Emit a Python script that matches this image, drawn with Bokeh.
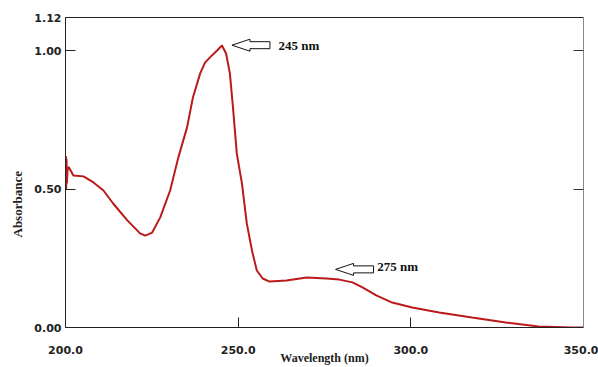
from bokeh.plotting import figure
from bokeh.models import Range1d, LinearAxis, FixedTicker, PrintfTickFormatter, Label, Title
from bokeh.embed import file_html
from bokeh.resources import INLINE

# ---- data ----
wavelength = [200.0, 200.1, 200.2, 200.3, 200.4, 200.6, 200.9, 202.3, 205.2, 208.1, 211.0,
              213.8, 217.9, 221.6, 223.1, 225.1, 227.4, 230.3, 232.6, 235.2, 236.9,
              239.0, 240.4, 242.4, 243.9, 245.3, 246.5, 247.6, 248.5, 249.6, 251.1,
              252.5, 254.0, 255.4, 257.1, 259.1, 264.0, 269.8, 275.6, 279.3, 283.1,
              286.0, 290.0, 294.6, 300.4, 308.2, 317.7, 327.5, 337.0, 346.6, 350.0]
absorbance = [0.50, 0.62, 0.50, 0.61, 0.52, 0.57, 0.58, 0.549, 0.546, 0.524, 0.495,
              0.448, 0.387, 0.340, 0.332, 0.343, 0.397, 0.495, 0.611, 0.723, 0.831,
              0.918, 0.957, 0.983, 1.001, 1.019, 0.990, 0.918, 0.795, 0.629, 0.520,
              0.376, 0.278, 0.206, 0.177, 0.166, 0.170, 0.181, 0.177, 0.173, 0.163,
              0.145, 0.116, 0.090, 0.072, 0.054, 0.036, 0.018, 0.004, 0.000, 0.000]

x_ticks = [200, 250, 300, 350]
y_ticks = [0.0, 0.5, 1.0, 1.12]
right_ticks = [0.5, 1.0]

peak_labels = ["245 nm", "275 nm"]
arrow_tip_x = [248.2, 278.2]
arrow_tip_y = [1.02, 0.21]
peak_text_x = [261.7, 290.3]
peak_text_y = [1.019, 0.220]

# ---- figure ----
p = figure(width=598, height=367, x_range=Range1d(200, 350), y_range=Range1d(0, 1.12),
           output_backend="svg", toolbar_location=None,
           min_border_left=65, min_border_right=15, min_border_top=17, min_border_bottom=40,
           background_fill_color="white", border_fill_color="white")
p.outline_line_color = None
p.grid.visible = False

tick_font = "DejaVu Sans"

xa = p.xaxis[0]
xa.ticker = FixedTicker(ticks=x_ticks)
xa.formatter = PrintfTickFormatter(format="%.1f")
xa.major_tick_in = 10
xa.major_tick_out = 0
xa.minor_tick_in = 0
xa.minor_tick_out = 0
xa.major_label_standoff = 18
xa.major_label_text_font = tick_font
xa.major_label_text_font_style = "bold"
xa.major_label_text_font_size = "11px"
xa.major_label_text_color = "#222222"
xa.axis_line_color = "#222222"
xa.major_tick_line_color = "#222222"
xa.axis_label = "Wavelength (nm)"
xa.axis_label_text_font = "Liberation Serif"
xa.axis_label_text_font_style = "bold"
xa.axis_label_text_font_size = "12px"
xa.axis_label_text_color = "#222222"
xa.axis_label_standoff = -6

ya = p.yaxis[0]
ya.ticker = FixedTicker(ticks=y_ticks)
ya.formatter = PrintfTickFormatter(format="%.2f")
ya.major_tick_in = 10
ya.major_tick_out = 0
ya.minor_tick_in = 0
ya.minor_tick_out = 0
ya.major_label_standoff = 4
ya.major_label_text_font = tick_font
ya.major_label_text_font_style = "bold"
ya.major_label_text_font_size = "11px"
ya.major_label_text_color = "#222222"
ya.axis_line_color = "#222222"
ya.major_tick_line_color = "#222222"

ra = LinearAxis(ticker=FixedTicker(ticks=right_ticks), major_tick_in=10, major_tick_out=0,
                minor_tick_in=0, minor_tick_out=0, major_label_text_alpha=0,
                major_label_text_font_size="1px", major_label_standoff=0,
                axis_line_color="#8a8a8a", major_tick_line_color="#333333")
p.add_layout(ra, "right")

ta = LinearAxis(ticker=FixedTicker(ticks=[]), major_tick_in=0, major_tick_out=0,
                minor_tick_in=0, minor_tick_out=0, major_label_standoff=0,
                axis_line_color="#222222")
p.add_layout(ta, "above")

p.add_layout(Title(text="Absorbance", align="left", offset=90, standoff=13,
                   text_font="Liberation Serif", text_font_style="bold",
                   text_font_size="13px", text_color="#222222"), "left")

# ---- spectrum ----
p.line(wavelength, absorbance, line_color="#bb1a1a", line_width=2)

# ---- hollow arrows (built from tip positions, sizes in pixels) ----
px_x = 150.0 / 518.0   # nm per pixel
px_y = 1.12 / 310.0    # absorbance per pixel
shape = [(0, 0), (18, 6), (18, 3.5), (38, 3.5), (38, -3.5), (18, -3.5), (18, -6)]
xs, ys = [], []
for tx, ty in zip(arrow_tip_x, arrow_tip_y):
    xs.append([tx + dx * px_x for dx, dy in shape])
    ys.append([ty + dy * px_y for dx, dy in shape])
p.patches(xs, ys, fill_color="white", line_color="#111111", line_width=1)

for t, tx, ty in zip(peak_labels, peak_text_x, peak_text_y):
    p.add_layout(Label(x=tx, y=ty, text=t, text_font="Liberation Serif", text_font_style="bold",
                       text_font_size="13px", text_baseline="middle", text_align="left",
                       text_color="#111111"))

open("out.html", "w").write(file_html(p, INLINE))
